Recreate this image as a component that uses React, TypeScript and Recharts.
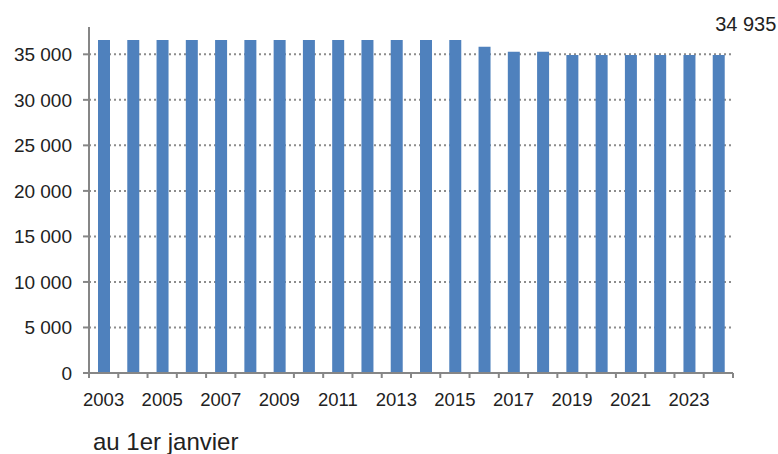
import { BarChart, Bar, XAxis, YAxis, CartesianGrid, LabelList } from "recharts";

const years = [
  "2003", "2004", "2005", "2006", "2007", "2008", "2009", "2010", "2011", "2012", "2013",
  "2014", "2015", "2016", "2017", "2018", "2019", "2020", "2021", "2022", "2023", "2024",
];
const population = [
  36570, 36570, 36570, 36570, 36570, 36570, 36570, 36570, 36570, 36570, 36570,
  36570, 36570, 35840, 35290, 35290, 34935, 34935, 34935, 34935, 34935, 34935,
];
const yTicks = [0, 5000, 10000, 15000, 20000, 25000, 30000, 35000];
const yMax = 38000;
const footnote = "au 1er janvier";

const data = years.map((year, i) => ({ year, value: population[i] }));

const FONT = "'Liberation Sans', Arial, sans-serif";
const AXIS = "#868686";
const TEXT = "#222";

const fmt = (v: number) => {
  const s = String(Math.round(v));
  return s.replace(/\B(?=(\d{3})+(?!\d))/g, " ");
};

function YearTick(props: any) {
  const { x, y, payload, index } = props;
  const off = payload?.offset ?? 14.6;
  const last = index === years.length - 1;
  return (
    <g>
      <line x1={x - off} y1={y} x2={x - off} y2={y + 5} stroke={AXIS} strokeWidth={2} />
      {last && <line x1={x + off} y1={y} x2={x + off} y2={y + 5} stroke={AXIS} strokeWidth={2} />}
      {index % 2 === 0 && (
        <text x={x} y={y + 33} textAnchor="middle" fill={TEXT} fontSize={18.5} fontFamily={FONT}>
          {payload.value}
        </text>
      )}
    </g>
  );
}

function LastLabel(props: any) {
  const { x, y, width, index, value } = props;
  if (index !== years.length - 1) return null;
  return (
    <text x={x + width / 2 + 27} y={y - 24} textAnchor="middle" fill={TEXT} fontSize={20} fontFamily={FONT}>
      {fmt(value)}
    </text>
  );
}

// grid only at the labelled ticks above zero (no line at the top of the axis)
const gridRows = ({ offset }: any) =>
  yTicks.filter((t) => t > 0).map((t) => offset.top + offset.height * (1 - t / yMax));

export default function App() {
  return (
    <div style={{ position: "relative", width: 778, height: 454, background: "#fff" }}>
      <style>{`body{margin:0}`}</style>
      <BarChart
        width={778}
        height={454}
        data={data}
        margin={{ top: 27, right: 45, left: 0, bottom: 51 }}
      >
        <CartesianGrid
          vertical={false}
          stroke="#8c8c8c"
          strokeWidth={2}
          strokeDasharray="2 3"
          horizontalCoordinatesGenerator={gridRows}
        />
        <XAxis
          dataKey="year"
          interval={0}
          height={30}
          tickSize={0}
          tickMargin={0}
          tickLine={false}
          axisLine={{ stroke: AXIS, strokeWidth: 2 }}
          tick={<YearTick />}
        />
        <YAxis
          width={89}
          domain={[0, yMax]}
          ticks={yTicks}
          interval={0}
          tickFormatter={fmt}
          tickSize={6}
          tickMargin={11}
          tickLine={{ stroke: AXIS, strokeWidth: 2 }}
          axisLine={{ stroke: AXIS, strokeWidth: 2 }}
          tick={{ fill: TEXT, fontSize: 19, fontFamily: FONT }}
        />
        <Bar dataKey="value" fill="#4F81BD" barSize={12} isAnimationActive={false}>
          <LabelList dataKey="value" content={<LastLabel />} />
        </Bar>
      </BarChart>
      <div
        style={{
          position: "absolute",
          left: 93,
          top: 428,
          fontFamily: FONT,
          fontSize: 24,
          color: TEXT,
          lineHeight: "28px",
          whiteSpace: "nowrap",
        }}
      >
        {footnote}
      </div>
    </div>
  );
}
